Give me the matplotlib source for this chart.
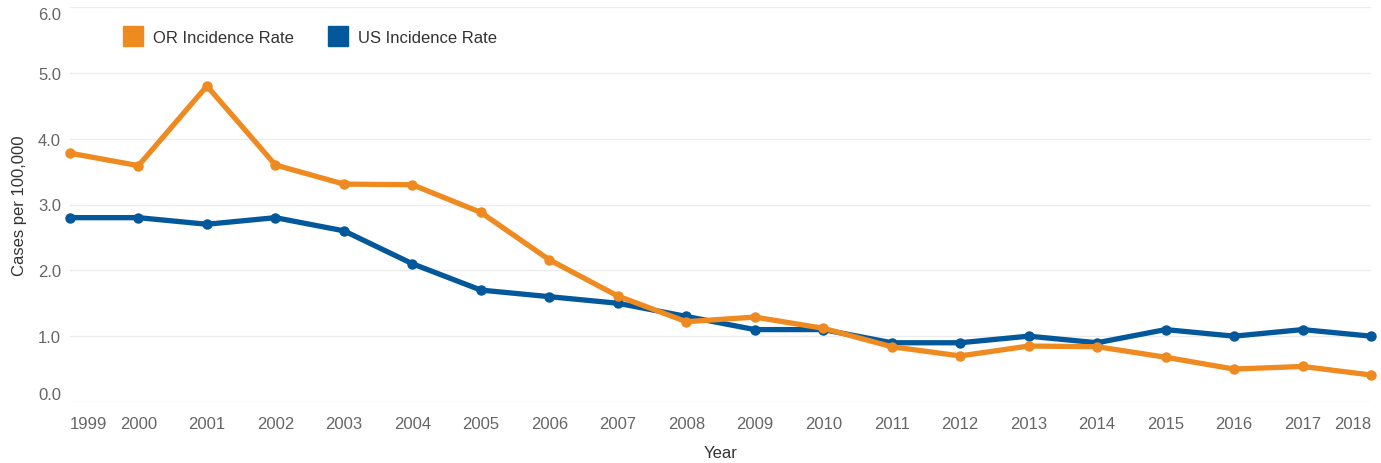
import numpy as np
import matplotlib
matplotlib.use("Agg")
import matplotlib.pyplot as plt
from matplotlib.lines import Line2D

plt.rcParams['font.family'] = ['Liberation Sans', 'DejaVu Sans']

# data
years = list(range(1999, 2019))
or_rate = [3.78, 3.59, 4.80, 3.60, 3.31, 3.30, 2.88, 2.16, 1.61, 1.22, 1.29,
           1.12, 0.84, 0.70, 0.85, 0.84, 0.68, 0.50, 0.54, 0.41]
us_rate = [2.8, 2.8, 2.7, 2.8, 2.6, 2.1, 1.7, 1.6, 1.5, 1.3, 1.1,
           1.1, 0.9, 0.9, 1.0, 0.9, 1.1, 1.0, 1.1, 1.0]
yticks = [0.0, 1.0, 2.0, 3.0, 4.0, 5.0, 6.0]

orange = '#EE8A1F'
blue = '#02589A'
txt = '#666666'

W, H = 1381, 464
fig = plt.figure(figsize=(W / 100, H / 100), dpi=100)
ax = fig.add_axes([70 / W, (H - 403) / H, (1371 - 70) / W, (403 - 8) / H])

ax.plot(years, or_rate, color=orange, lw=3.8, marker='o', ms=6.5,
        clip_on=False, zorder=3, solid_joinstyle='round')
ax.plot(years, us_rate, color=blue, lw=3.8, marker='o', ms=6.5,
        clip_on=False, zorder=2, solid_joinstyle='round')

ax.set_xlim(1999, 2018)
ax.set_ylim(0, 6)
ax.set_yticks(yticks)
ax.set_yticklabels(['%.1f' % v for v in yticks])
ax.set_xticks(years)
ax.set_xticklabels([str(y) for y in years])
ax.tick_params(length=0, labelsize=12, labelcolor=txt)
ax.tick_params(axis='x', pad=10)
ax.tick_params(axis='y', pad=6.5)
xl = ax.get_xticklabels()
xl[0].set_horizontalalignment('left')
xl[-1].set_horizontalalignment('right')
yl = ax.get_yticklabels()
yl[0].set_verticalalignment('bottom')
yl[-1].set_verticalalignment('top')

ax.grid(axis='y', color='#ececec', lw=1)
ax.set_axisbelow(True)
for s in ax.spines.values():
    s.set_visible(False)

ax.set_xlabel('Year', fontsize=12, color='#333333', labelpad=10)
ax.set_ylabel('Cases per 100,000', fontsize=12, color='#333333', labelpad=8)

handles = [Line2D([], [], marker='s', ls='none', ms=14.4, color=orange),
           Line2D([], [], marker='s', ls='none', ms=14.4, color=blue)]
ax.legend(handles, ['OR Incidence Rate', 'US Incidence Rate'], ncol=2,
          loc='upper left', bbox_to_anchor=(40 / (1371 - 70), 1 - 16 / 395),
          frameon=False, fontsize=12, labelcolor='#333333',
          handletextpad=0.2, columnspacing=1.6, borderaxespad=0)

fig.savefig('out.png', dpi=100)
